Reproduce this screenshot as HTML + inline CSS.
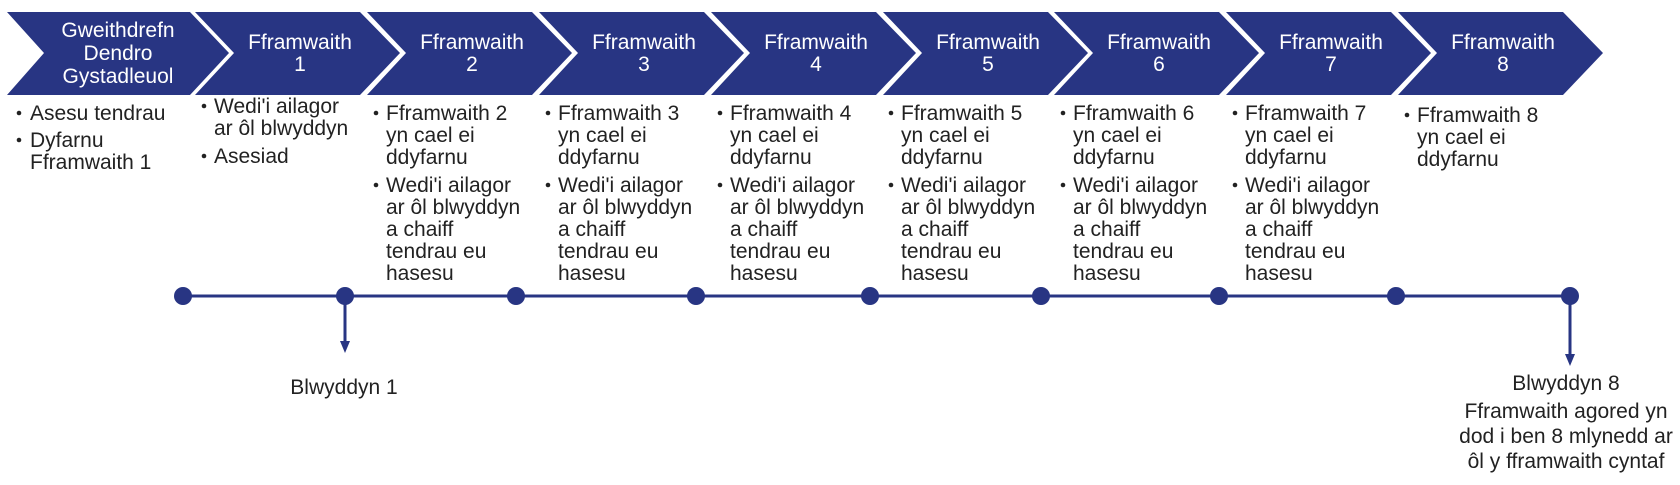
<!DOCTYPE html>
<html><head><meta charset="utf-8"><style>
html,body{margin:0;padding:0;background:#fff;}
svg{display:block;}
text{font-family:"Liberation Sans",Arial,sans-serif;font-size:21px;}
.t{fill:#fff;text-anchor:middle;}
.b{fill:#222;}
</style></head><body>
<svg width="1680" height="485" viewBox="0 0 1680 485" xmlns="http://www.w3.org/2000/svg">
<g fill="#283583">
<polygon points="7,12 190,12 229,53 190,95 7,95 44,53"/>
<polygon points="195,12 360,12 400,53 360,95 195,95 234,53"/>
<polygon points="367,12 532,12 572,53 532,95 367,95 406,53"/>
<polygon points="539,12 704,12 744,53 704,95 539,95 578,53"/>
<polygon points="711,12 876,12 916,53 876,95 711,95 750,53"/>
<polygon points="883,12 1048,12 1088,53 1048,95 883,95 922,53"/>
<polygon points="1054,12 1219,12 1259,53 1219,95 1054,95 1093,53"/>
<polygon points="1226,12 1391,12 1431,53 1391,95 1226,95 1265,53"/>
<polygon points="1398,12 1563,12 1603,53 1563,95 1398,95 1437,53"/>
</g>
<g class="t">
<text x="118" y="37" class="t">Gweithdrefn</text><text x="118" y="60" class="t">Dendro</text><text x="118" y="83" class="t">Gystadleuol</text>
<text x="300" y="49" class="t">Fframwaith</text><text x="300" y="71" class="t">1</text>
<text x="472" y="49" class="t">Fframwaith</text><text x="472" y="71" class="t">2</text>
<text x="644" y="49" class="t">Fframwaith</text><text x="644" y="71" class="t">3</text>
<text x="816" y="49" class="t">Fframwaith</text><text x="816" y="71" class="t">4</text>
<text x="988" y="49" class="t">Fframwaith</text><text x="988" y="71" class="t">5</text>
<text x="1159" y="49" class="t">Fframwaith</text><text x="1159" y="71" class="t">6</text>
<text x="1331" y="49" class="t">Fframwaith</text><text x="1331" y="71" class="t">7</text>
<text x="1503" y="49" class="t">Fframwaith</text><text x="1503" y="71" class="t">8</text>
</g>
<g fill="#222">
<circle cx="19" cy="113" r="2.3"/><text class="b" x="30" y="120">Asesu tendrau</text>
<circle cx="19" cy="140" r="2.3"/><text class="b" x="30" y="147">Dyfarnu</text><text class="b" x="30" y="169">Fframwaith 1</text>
<circle cx="204" cy="106" r="2.3"/><text class="b" x="214" y="113">Wedi'i ailagor</text><text class="b" x="214" y="135">ar ôl blwyddyn</text>
<circle cx="204" cy="156" r="2.3"/><text class="b" x="214" y="163">Asesiad</text>
</g>
<g fill="#222">
<circle cx="376" cy="113" r="2.3"/><text class="b" x="386" y="120">Fframwaith 2</text><text class="b" x="386" y="142">yn cael ei</text><text class="b" x="386" y="164">ddyfarnu</text>
<circle cx="376" cy="185" r="2.3"/><text class="b" x="386" y="192">Wedi'i ailagor</text><text class="b" x="386" y="214">ar ôl blwyddyn</text><text class="b" x="386" y="236">a chaiff</text><text class="b" x="386" y="258">tendrau eu</text><text class="b" x="386" y="280">hasesu</text>
<circle cx="548" cy="113" r="2.3"/><text class="b" x="558" y="120">Fframwaith 3</text><text class="b" x="558" y="142">yn cael ei</text><text class="b" x="558" y="164">ddyfarnu</text>
<circle cx="548" cy="185" r="2.3"/><text class="b" x="558" y="192">Wedi'i ailagor</text><text class="b" x="558" y="214">ar ôl blwyddyn</text><text class="b" x="558" y="236">a chaiff</text><text class="b" x="558" y="258">tendrau eu</text><text class="b" x="558" y="280">hasesu</text>
<circle cx="720" cy="113" r="2.3"/><text class="b" x="730" y="120">Fframwaith 4</text><text class="b" x="730" y="142">yn cael ei</text><text class="b" x="730" y="164">ddyfarnu</text>
<circle cx="720" cy="185" r="2.3"/><text class="b" x="730" y="192">Wedi'i ailagor</text><text class="b" x="730" y="214">ar ôl blwyddyn</text><text class="b" x="730" y="236">a chaiff</text><text class="b" x="730" y="258">tendrau eu</text><text class="b" x="730" y="280">hasesu</text>
<circle cx="891" cy="113" r="2.3"/><text class="b" x="901" y="120">Fframwaith 5</text><text class="b" x="901" y="142">yn cael ei</text><text class="b" x="901" y="164">ddyfarnu</text>
<circle cx="891" cy="185" r="2.3"/><text class="b" x="901" y="192">Wedi'i ailagor</text><text class="b" x="901" y="214">ar ôl blwyddyn</text><text class="b" x="901" y="236">a chaiff</text><text class="b" x="901" y="258">tendrau eu</text><text class="b" x="901" y="280">hasesu</text>
<circle cx="1063" cy="113" r="2.3"/><text class="b" x="1073" y="120">Fframwaith 6</text><text class="b" x="1073" y="142">yn cael ei</text><text class="b" x="1073" y="164">ddyfarnu</text>
<circle cx="1063" cy="185" r="2.3"/><text class="b" x="1073" y="192">Wedi'i ailagor</text><text class="b" x="1073" y="214">ar ôl blwyddyn</text><text class="b" x="1073" y="236">a chaiff</text><text class="b" x="1073" y="258">tendrau eu</text><text class="b" x="1073" y="280">hasesu</text>
<circle cx="1235" cy="113" r="2.3"/><text class="b" x="1245" y="120">Fframwaith 7</text><text class="b" x="1245" y="142">yn cael ei</text><text class="b" x="1245" y="164">ddyfarnu</text>
<circle cx="1235" cy="185" r="2.3"/><text class="b" x="1245" y="192">Wedi'i ailagor</text><text class="b" x="1245" y="214">ar ôl blwyddyn</text><text class="b" x="1245" y="236">a chaiff</text><text class="b" x="1245" y="258">tendrau eu</text><text class="b" x="1245" y="280">hasesu</text>
<circle cx="1407" cy="115" r="2.3"/><text class="b" x="1417" y="122">Fframwaith 8</text><text class="b" x="1417" y="144">yn cael ei</text><text class="b" x="1417" y="166">ddyfarnu</text>
</g>
<g stroke="#283583" stroke-width="3" fill="none">
<line x1="183" y1="296" x2="1570" y2="296"/>
<line x1="345" y1="296" x2="345" y2="343"/>
<line x1="1570" y1="296" x2="1570" y2="356"/>
</g>
<g fill="#283583">
<polygon points="340,341 350,341 345,353"/>
<polygon points="1565,354 1575,354 1570,366"/>
<circle cx="183" cy="296" r="9"/><circle cx="345" cy="296" r="9"/><circle cx="516" cy="296" r="9"/>
<circle cx="696" cy="296" r="9"/><circle cx="870" cy="296" r="9"/><circle cx="1041" cy="296" r="9"/>
<circle cx="1219" cy="296" r="9"/><circle cx="1396" cy="296" r="9"/><circle cx="1570" cy="296" r="9"/>
</g>
<g fill="#222" text-anchor="middle">
<text x="344" y="394">Blwyddyn 1</text>
<text x="1566" y="390">Blwyddyn 8</text>
<text x="1566" y="418">Fframwaith agored yn</text>
<text x="1566" y="443">dod i ben 8 mlynedd ar</text>
<text x="1566" y="468">ôl y fframwaith cyntaf</text>
</g>
</svg>
</body></html>
